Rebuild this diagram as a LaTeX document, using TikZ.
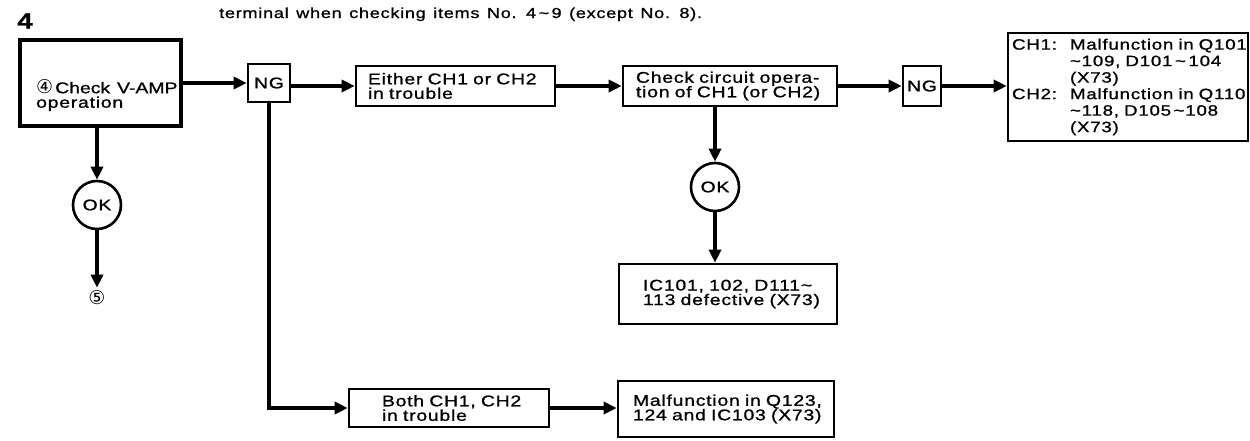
\documentclass[tikz,border=0pt]{standalone}
\usepackage{fontspec}
\setmainfont{Liberation Sans}[FakeStretch=1.25,LetterSpace=5,WordSpace=1.3,FakeBold=1]
\newfontfamily\circfont{DejaVu Sans}
\usetikzlibrary{arrows.meta}
\newcommand\oneline[1]{\mbox{#1}}
\newcommand\tild{\textasciitilde}
\begin{document}
\begin{tikzpicture}[x=1pt,y=-1pt,
  txt/.style={font=\fontsize{15.5}{14.5}\selectfont},
  box/.style={draw, line width=2.6pt, txt, align=left, inner ysep=0pt},
  arr/.style={line width=4pt, -{Triangle[length=13pt,width=12pt]}},
  okc/.style={circle, draw, line width=2.6pt, minimum size=48pt, inner sep=0pt, txt},
]
\useasboundingbox (0,0) rectangle (1250,440);

% heading
\node[font=\bfseries\fontsize{22}{22}\selectfont, inner sep=0pt] (num) at (25,21) {4};
\node[font=\fontsize{14.5}{14.5}\selectfont, anchor=base west, inner sep=0pt] (title) at (219,18) {terminal when checking items No. 4\,\tild\,9 (except No. 8).};

% main check box
\node[draw, line width=4.5pt, minimum width=161pt, minimum height=86pt] (v) at (100.5,83) {};
\node[txt, anchor=north west, align=left, inner sep=0pt] (vt) at (36,79) {\addfontfeatures{LetterSpace=0}{\circfont\fontsize{19}{17}\selectfont ④}\hspace{2pt}Check V-AMP\\operation};

% NG branch
\node[box, minimum width=42pt, minimum height=38pt, align=center] (ng1) at (269,83) {NG};
\node[box, minimum height=40pt, text width=175pt, inner xsep=12pt] (either) at (455.5,86) {\oneline{Either CH1 or CH2}\\\oneline{in trouble}};
\node[box, minimum height=40pt, text width=188pt, inner xsep=13pt] (check) at (730,86) {\oneline{Check circuit opera-}\\\oneline{tion of CH1 (or CH2)}};
\node[box, minimum width=38pt, minimum height=40pt, align=center] (ng2) at (922,86) {NG};
\node[box, minimum height=108pt, text width=232pt, inner xsep=4pt, font=\fontsize{15}{16.5}\selectfont] (res) at (1128,87)
  {\oneline{\makebox[58pt][l]{CH1:}Malfunction in Q101}\\
   \oneline{\hspace*{58pt}\tild109, D101\,\tild\,104}\\
   \oneline{\hspace*{58pt}(X73)}\\
   \oneline{\makebox[58pt][l]{CH2:}Malfunction in Q110}\\
   \oneline{\hspace*{58pt}\tild118, D105\,\tild108}\\
   \oneline{\hspace*{58pt}(X73)}};

% OK branch of check
\node[okc] (ok2) at (715,187) {OK};
\node[box, minimum height=60pt, text width=170pt, inner xsep=24pt] (ic) at (728,294) {\oneline{IC101, 102, D111\tild}\\\oneline{113 defective (X73)}};

% both channels
\node[box, minimum height=38pt, text width=134pt, inner xsep=33pt] (both) at (449,408) {\oneline{Both CH1, CH2}\\\oneline{in trouble}};
\node[box, minimum height=56pt, text width=186pt, inner xsep=15pt] (mal) at (726,409) {\oneline{Malfunction in Q123,}\\\oneline{124 and IC103 (X73)}};

% OK branch of main
\node[okc] (ok1) at (97,205) {OK};
\node[inner sep=3pt, font=\circfont\fontsize{19}{19}\selectfont] (five) at (97,298) {⑤};

% connectors
\draw[arr] (v.east |- ng1) -- (ng1.west);
\draw[arr] (ng1.east |- either) -- (either.west);
\draw[arr] (either) -- (check);
\draw[arr] (check.east |- ng2) -- (ng2.west);
\draw[arr] (ng2.east) -- (res.west |- ng2);
\draw[arr] (check.south -| ok2) -- (ok2);
\draw[arr] (ok2) -- (ok2 |- ic.north);
\draw[arr] (ng1.south) |- (both.west);
\draw[arr] (both) -- (mal.west |- both);
\draw[arr] (v.south -| ok1) -- (ok1);
\draw[arr] (ok1) -- (five);
\end{tikzpicture}
\end{document}
